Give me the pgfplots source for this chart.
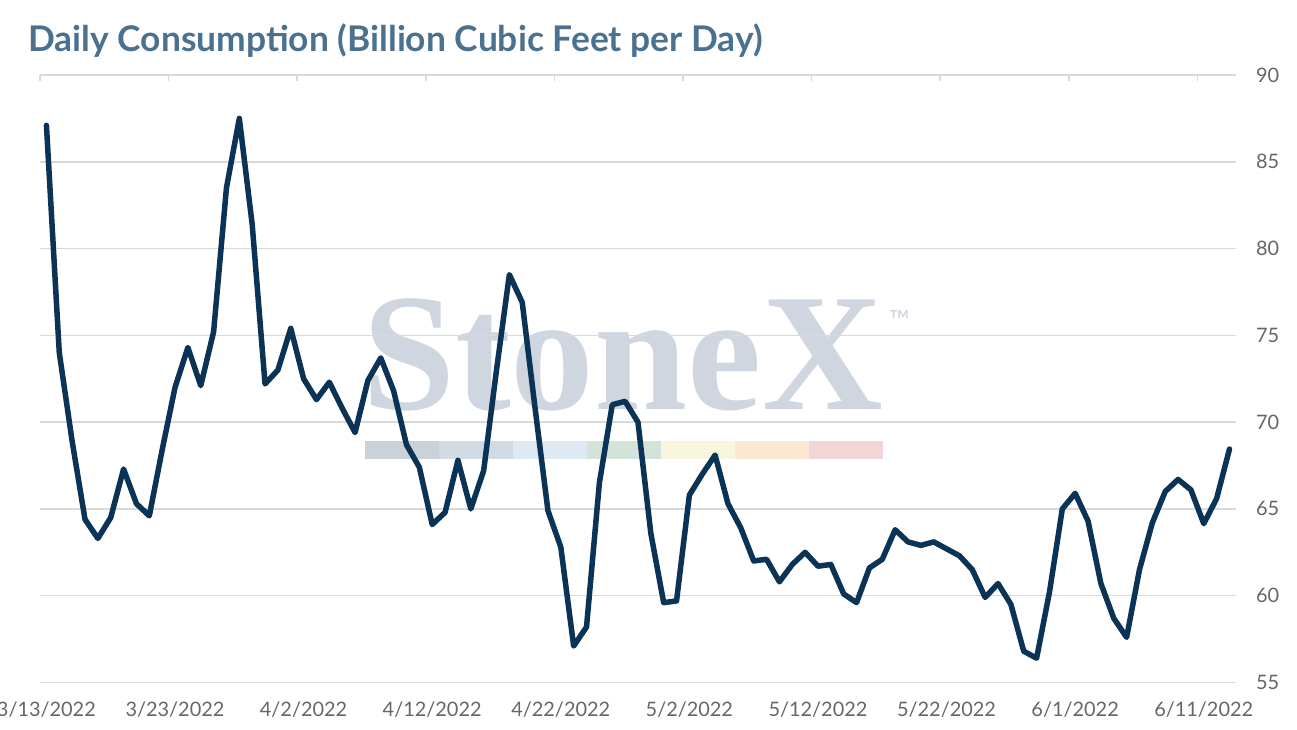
\documentclass[border=0pt]{standalone}
\usepackage{fontspec}
\setmainfont{Lato}
\usepackage{pgfplots}
\pgfplotsset{compat=1.18}
\definecolor{titleblue}{HTML}{4B7190}
\definecolor{navy}{HTML}{0B3356}
\definecolor{gridgray}{HTML}{D9D9D9}
\definecolor{labgray}{HTML}{666666}
\definecolor{wm}{HTML}{CFD6DF}
\definecolor{b1}{HTML}{CBD1D9}
\definecolor{b2}{HTML}{D1DBE6}
\definecolor{b3}{HTML}{DEEAF3}
\definecolor{b4}{HTML}{D3E3D9}
\definecolor{b5}{HTML}{F8F6DE}
\definecolor{b6}{HTML}{FAE8D3}
\definecolor{b7}{HTML}{F2D5D7}
\newfontfamily\wmfont{Liberation Serif}
\begin{document}
\begin{tikzpicture}[x=1bp,y=1bp]
\useasboundingbox (0,0) rectangle (1297,730);
% watermark
\node[anchor=base west, inner sep=0pt, text=wm, font=\wmfont\bfseries\fontsize{168}{168}\selectfont] at (362,320) {StoneX};
\node[anchor=north west, inner sep=0pt, text=wm, font=\fontsize{28}{28}\selectfont] at (889,420) {™};
\fill[b1] (365,271) rectangle (439,289);
\fill[b2] (439,271) rectangle (513,289);
\fill[b3] (513,271) rectangle (587,289);
\fill[b4] (587,271) rectangle (661,289);
\fill[b5] (661,271) rectangle (735,289);
\fill[b6] (735,271) rectangle (809,289);
\fill[b7] (809,271) rectangle (883,289);
% title
\node[anchor=base west, inner sep=0pt, text=titleblue, font=\bfseries\fontsize{35.5}{35.5}\selectfont] at (28,678.3) {Daily Consumption (Billion Cubic Feet per Day)};
\begin{axis}[
  at={(40bp,47.5bp)}, anchor=south west,
  width=1196bp, height=607.5bp, scale only axis,
  xmin=-0.5, xmax=92.5, ymin=55, ymax=90,
  axis line style={draw=none},
  xtick={-0.5,9.5,19.5,29.5,39.5,49.5,59.5,69.5,79.5,89.5},
  xticklabels={3/13/2022,3/23/2022,4/2/2022,4/12/2022,4/22/2022,5/2/2022,5/12/2022,5/22/2022,6/1/2022,6/11/2022},
  xtick pos=right, xticklabel pos=left,
  tick align=inside, major tick length=6bp,
  xtick style={draw=gridgray, line width=1.5bp},
  ytick={55,60,65,70,75,80,85,90},
  ytick style={draw=none},
  yticklabel pos=right,
  ymajorgrids, grid style={draw=gridgray, line width=1.5bp},
  /pgf/number format/assume math mode=true,
  ticklabel style={font=\fontsize{20}{20}\selectfont, text=labgray},
  xticklabel style={anchor=north, inner sep=0pt, yshift=-19bp, xshift=6.4bp},
  yticklabel style={anchor=west, inner sep=0pt, xshift=20bp},
  clip=false,
]
\addplot[navy, line width=5.5bp, line join=round, line cap=round] coordinates {
(0,87.1) (1,74.0) (2,68.9) (3,64.4) (4,63.3) (5,64.5) (6,67.3) (7,65.3) (8,64.6) (9,68.4)
(10,72.0) (11,74.3) (12,72.1) (13,75.2) (14,83.5) (15,87.5) (16,81.4) (17,72.2) (18,73.0) (19,75.4)
(20,72.5) (21,71.3) (22,72.3) (23,70.8) (24,69.4) (25,72.4) (26,73.7) (27,71.8) (28,68.7) (29,67.4)
(30,64.1) (31,64.8) (32,67.8) (33,65.0) (34,67.2) (35,73.0) (36,78.5) (37,76.9) (38,70.8) (39,64.9)
(40,62.8) (41,57.1) (42,58.2) (43,66.5) (44,71.0) (45,71.2) (46,70.0) (47,63.6) (48,59.6) (49,59.7)
(50,65.8) (51,67.0) (52,68.1) (53,65.3) (54,63.9) (55,62.0) (56,62.1) (57,60.8) (58,61.8) (59,62.5)
(60,61.7) (61,61.8) (62,60.1) (63,59.6) (64,61.6) (65,62.1) (66,63.8) (67,63.1) (68,62.9) (69,63.1)
(70,62.7) (71,62.3) (72,61.5) (73,59.9) (74,60.7) (75,59.5) (76,56.8) (77,56.4) (78,60.2) (79,65.0)
(80,65.9) (81,64.3) (82,60.7) (83,58.7) (84,57.6) (85,61.5) (86,64.2) (87,66.0) (88,66.7) (89,66.1)
(90,64.15) (91,65.6) (92,68.45)
};
\end{axis}
\end{tikzpicture}
\end{document}
